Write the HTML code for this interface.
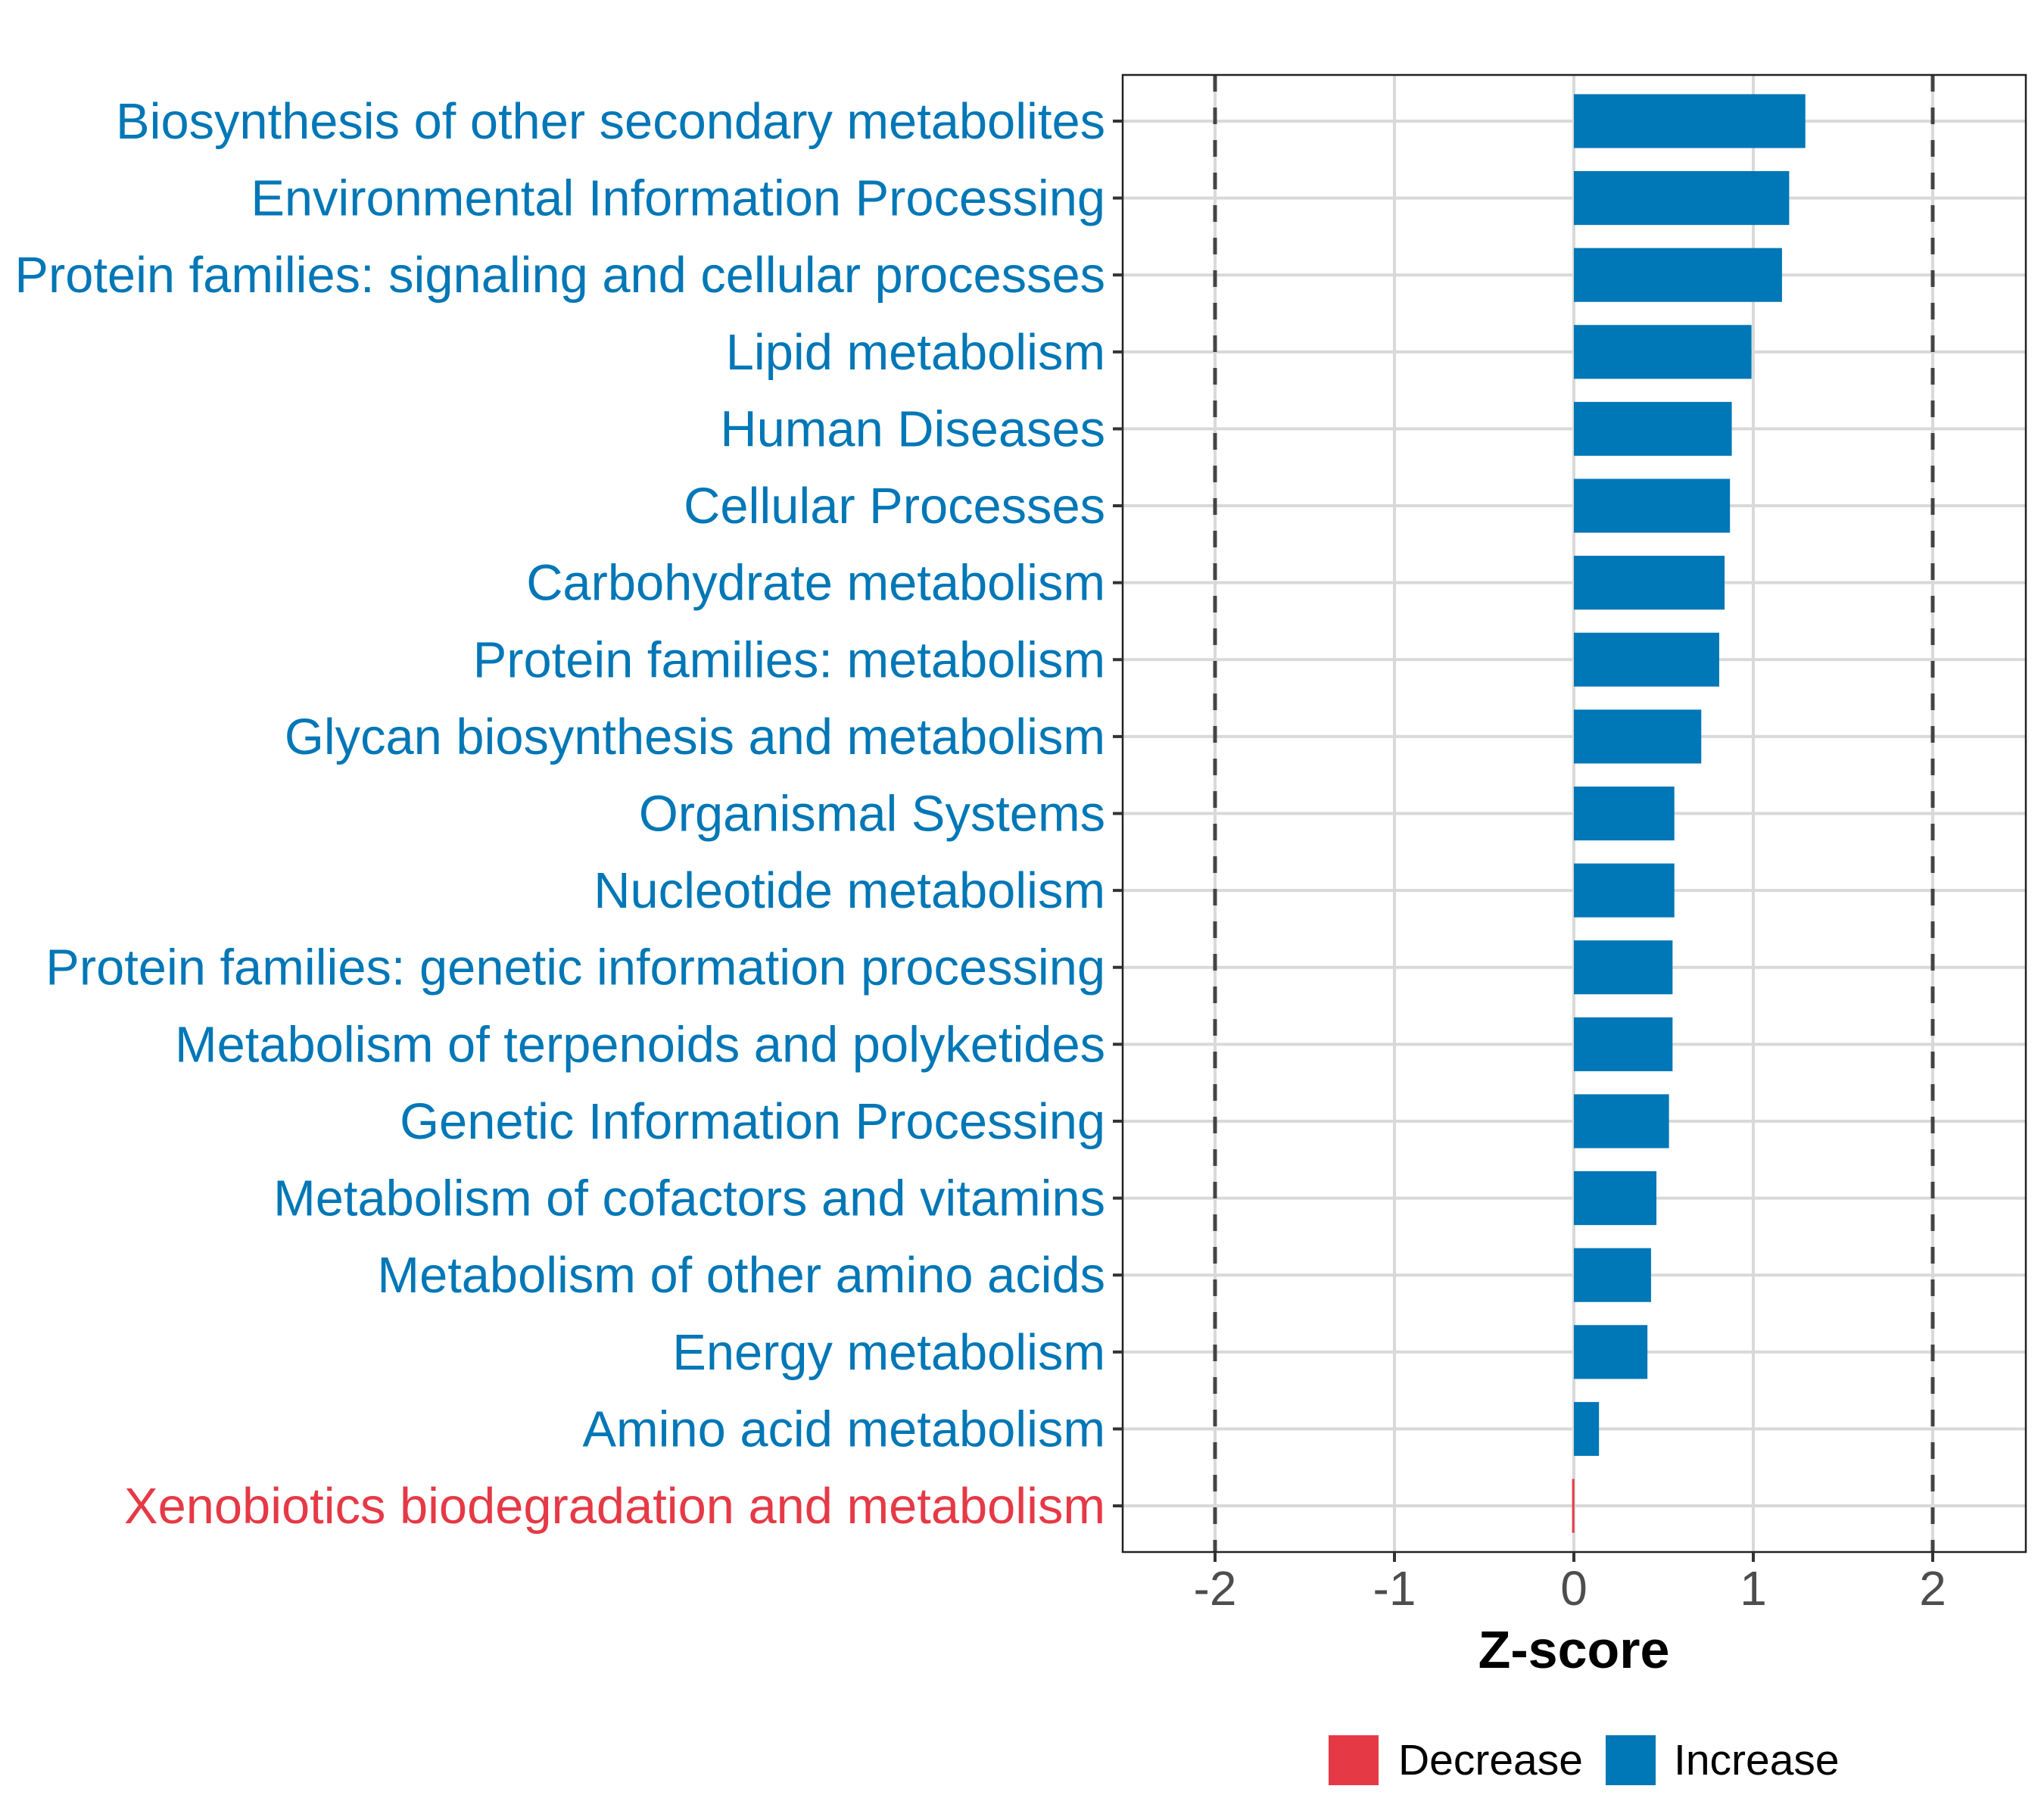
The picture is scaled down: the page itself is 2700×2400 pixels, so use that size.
<!DOCTYPE html>
<html><head><meta charset="utf-8"><style>
html,body{margin:0;padding:0;background:#fff}
svg{display:block}
text{font-family:"Liberation Sans",Arial,sans-serif}
</style></head><body>
<svg id="chart" width="2700" height="2400" viewBox="0 0 2700 2400" xmlns="http://www.w3.org/2000/svg">
<rect width="2700" height="2400" fill="#fff"/>
<g id="grid"></g>
<g id="bars"></g>
<g id="dash"></g>
<rect x="1483" y="99" width="1193" height="1951" fill="none" stroke="#222" stroke-width="2.5"/>
<g id="yaxis"></g>
<g id="xaxis"></g>
<text x="2079" y="2203" text-anchor="middle" font-size="70" font-weight="bold" fill="#000">Z-score</text>
<g>
<rect x="1755" y="2292" width="66" height="66" fill="#E63946"/>
<text x="1847" y="2344" font-size="57" fill="#000">Decrease</text>
<rect x="2121" y="2292" width="66" height="66" fill="#0077B6"/>
<text x="2211" y="2344" font-size="57" fill="#000">Increase</text>
</g>
</svg>
<script>
const categories = ["Biosynthesis of other secondary metabolites","Environmental Information Processing","Protein families: signaling and cellular processes","Lipid metabolism","Human Diseases","Cellular Processes","Carbohydrate metabolism","Protein families: metabolism","Glycan biosynthesis and metabolism","Organismal Systems","Nucleotide metabolism","Protein families: genetic information processing","Metabolism of terpenoids and polyketides","Genetic Information Processing","Metabolism of cofactors and vitamins","Metabolism of other amino acids","Energy metabolism","Amino acid metabolism","Xenobiotics biodegradation and metabolism"];
const zscores = [1.29,1.20,1.16,0.99,0.88,0.87,0.84,0.81,0.71,0.56,0.56,0.55,0.55,0.53,0.46,0.43,0.41,0.14,-0.01];
const xTicks = [-2,-1,0,1,2];
const xTickLabels = ["-2","-1","0","1","2"];
const thresholds = [-2,2];

const NS="http://www.w3.org/2000/svg";
const PL=1483, PR=2676, PT=99, PB=2050;
const x0=2079, unit=237;
function xs(v){return x0+v*unit;}
const step=(PB-PT)/(categories.length-1+1.2);
function ys(i){return PT+0.6*step+i*step;}
function mk(tag,attrs,parent){const e=document.createElementNS(NS,tag);for(const k in attrs)e.setAttribute(k,attrs[k]);parent.appendChild(e);return e;}
const grid=document.getElementById('grid'),bars=document.getElementById('bars'),dash=document.getElementById('dash'),yax=document.getElementById('yaxis'),xax=document.getElementById('xaxis');
xTicks.forEach((t,i)=>{
  const g=mk('line',{x1:xs(t),x2:xs(t),y1:PT,y2:PB,stroke:'#d9d9d9','stroke-width':4},grid);
  
  
  const tk=mk('line',{x1:xs(t),x2:xs(t),y1:PB,y2:PB+13,stroke:'#333','stroke-width':4},xax);
  
  
  const tl=mk('text',{x:xs(t),y:2120,'text-anchor':'middle','font-size':64,fill:'#4d4d4d'},xax);
  tl.textContent=xTickLabels[i];
  
  
});
categories.forEach((c,i)=>{
  const y=ys(i), v=zscores[i];
  const g=mk('line',{x1:PL,x2:PR,y1:y,y2:y,stroke:'#d9d9d9','stroke-width':4},grid);
  
  
  const bh=0.7*step;
  let x1=Math.min(xs(0),xs(v)), w=Math.abs(xs(v)-xs(0));
  if(w<3){w=3;}
  const b=mk('rect',{x:x1,y:y-bh/2,width:w,height:bh,fill:v<0?'#E63946':'#0077B6'},bars);
  
  
  const tk=mk('line',{x1:PL-13,x2:PL,y1:y,y2:y,stroke:'#333','stroke-width':4},yax);
  
  
  const tl=mk('text',{x:1460,y:y+23,'text-anchor':'end','font-size':66.8,fill:v<0?'#E63946':'#0077B6'},yax);
  tl.textContent=c;
  
  
});
thresholds.forEach(t=>{
  const d=mk('line',{x1:xs(t),x2:xs(t),y1:PT,y2:PB,stroke:'#444','stroke-width':5,'stroke-dasharray':'22,21'},dash);
  
  
});
</script>
</body></html>
